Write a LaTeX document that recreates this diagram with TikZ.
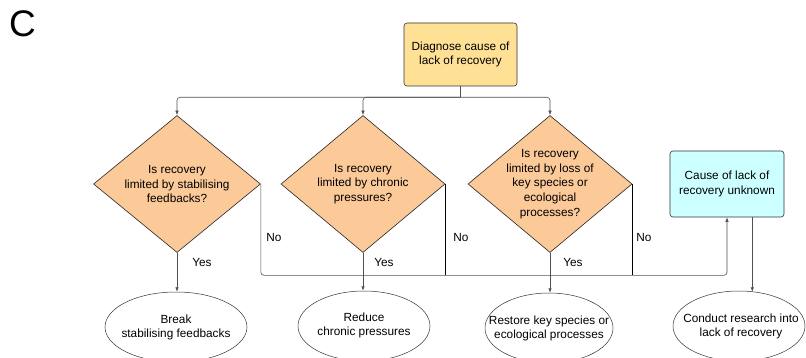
\documentclass[tikz,border=0pt]{standalone}
\usepackage{fontspec}
\setmainfont{Liberation Sans}
\usetikzlibrary{shapes.geometric,arrows.meta,calc}
\definecolor{peach}{HTML}{FCC998}
\definecolor{gold}{HTML}{FFE196}
\definecolor{lcyan}{HTML}{CCFFFF}
\definecolor{linegray}{HTML}{505050}
\begin{document}
\begin{tikzpicture}[x=1pt,y=-1pt,
  txt/.style={font=\fontsize{11.8}{14.6}\selectfont, align=center, inner sep=0},
  dia/.style={diamond, draw=black!85, fill=peach, minimum width=167pt, minimum height=137pt, inner sep=0, line width=0.6pt},
  rbox/.style={draw=black!80, rounded corners=3pt, line width=0.6pt, align=center, inner sep=0, font=\fontsize{11.8}{14.6}\selectfont},
  oval/.style={ellipse, draw=black!80, line width=0.5pt, inner sep=0, minimum height=70pt},
  conn/.style={draw=linegray, line width=0.6pt, rounded corners=3pt},
  arr/.style={conn, -{Latex[length=4.5pt,width=3.5pt]}},
  nobar/.style={draw=black, line width=1pt}]
\useasboundingbox (0,0) rectangle (806,358);
\node[font=\fontsize{37}{37}\selectfont, inner sep=0] (C) at (22.5,24) {C};

\node[rbox, fill=gold, minimum width=113pt, minimum height=63pt] (t) at (460.5,54.5) {Diagnose cause of\\lack of recovery};
\node[rbox, fill=lcyan, minimum width=114pt, minimum height=66pt] (u) at (727,184) {Cause of lack of\\recovery unknown};

\node[dia] (d1) at (177,184) {};
\node[txt] (d1t) at (d1) {Is recovery\\limited by stabilising\\feedbacks?};
\node[dia, minimum width=164pt] (d2) at (363,184) {};
\node[txt] (d2t) at (d2) {Is recovery\\limited by chronic\\pressures?};
\node[dia, minimum width=164pt] (d3) at (550,184) {};
\node[txt] (d3t) at (d3) {Is recovery\\limited by loss of\\key species or\\ecological\\processes?};

\node[oval, minimum width=142pt] (e1) at (176,327) {};
\node[txt] (e1t) at (176,327.5) {Break\\stabilising feedbacks};
\node[oval, minimum width=132pt] (e2) at (364,326) {};
\node[txt] (e2t) at (364,325.5) {Reduce\\chronic pressures};
\node[oval, minimum width=128pt] (e3) at (549,328) {};
\node[txt] (e3t) at (549,328.5) {Restore key species or\\ecological processes};
\node[oval, minimum width=132pt] (e4) at (739,326) {};
\node[txt] (e4t) at (741,326.5) {Conduct research into\\lack of recovery};

% top branching
\coordinate (j) at ($(t.south)+(0,11)$);
\draw[conn] (t.south) -- (j);
\draw[arr] (j) -| (d1.north);
\draw[arr] (j) -| (d2.north);
\draw[arr] (j) -| (d3.north);

% yes arrows
\draw[arr] (d1.south) -- (d1.south |- e1.north);
\draw[arr] (d2.south) -- (d2.south |- e2.north);
\draw[arr] (d3.south) -- (d3.south |- e3.north);

% no paths
\coordinate (nb) at ($(u.south)+(0,58)$);
\draw[arr] (d1.east) |- (nb) -- (u.south);
\draw[nobar] (d2.east) -- (d2.east |- nb);
\draw[nobar] (d3.east) -- (d3.east |- nb);

% unknown -> research
\coordinate (ua) at ([xshift=-32pt]u.south east);
\draw[arr] (ua) -- ($(ua |- e4.north)+(0,1)$);

% labels
\node[txt] (no1) at (274,237) {No};
\node[txt] (no2) at (461,237) {No};
\node[txt] (no3) at (644,237) {No};
\node[txt] (yes1) at (202,262) {Yes};
\node[txt] (yes2) at (384,262) {Yes};
\node[txt] (yes3) at (573,262) {Yes};
\end{tikzpicture}
\end{document}
